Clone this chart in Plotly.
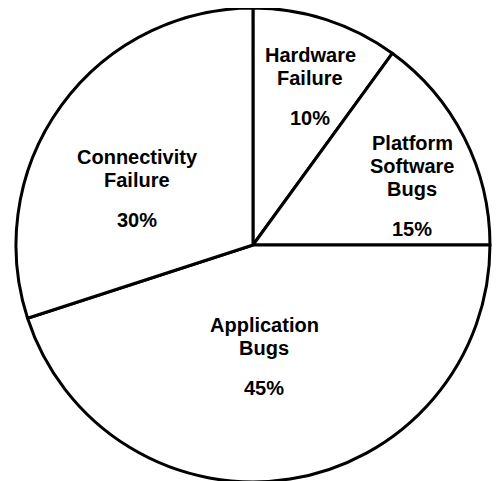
import plotly.graph_objects as go

# slices, clockwise from 12 o'clock
categories = ["Hardware Failure", "Platform Software Bugs", "Application Bugs", "Connectivity Failure"]
shares = [10, 15, 45, 30]
label_lines = [["Hardware", "Failure"], ["Platform", "Software", "Bugs"],
               ["Application", "Bugs"], ["Connectivity", "Failure"]]

W, H = 502, 481
MB = 7            # bottom margin -> plot area 474 px tall
PAGE_OFF = 8      # body margin of the html page

# where each label block sits (screen px: centre x, baseline of first line)
label_pos = [(310, 62), (412, 150), (264, 332), (137, 164)]
LINE = 23         # line step
GAP = 40          # step from last name line to the percentage
FONT = dict(family="Liberation Sans, Arial, sans-serif", size=20, color="#000000", weight="bold")

fig = go.Figure(go.Pie(
    labels=categories,
    values=shares,
    sort=False,
    direction="clockwise",
    rotation=0,
    marker=dict(colors=["#FFFFFF"] * len(shares), line=dict(color="#000000", width=3)),
    textinfo="none",
    hoverinfo="skip",
    domain=dict(x=[0.0, 0.976], y=[0, 1]),
))


def to_paper(xs, ys):
    # screen px -> paper coords of the plot area
    return (xs - PAGE_OFF) / W, 1 - (ys - PAGE_OFF) / (H - MB)


total = sum(shares)
for lines, v, (cx, base) in zip(label_lines, shares, label_pos):
    rows = lines + [f"{round(100 * v / total)}%"]
    y = base
    for i, txt in enumerate(rows):
        if i > 0:
            y += GAP if i == len(rows) - 1 else LINE
        px_, py_ = to_paper(cx, y - 7)
        fig.add_annotation(text=txt, x=px_, y=py_, xref="paper", yref="paper",
                           xanchor="center", yanchor="middle", showarrow=False,
                           font=FONT)

fig.update_layout(
    width=W, height=H,
    paper_bgcolor="#FFFFFF",
    showlegend=False,
    margin=dict(l=0, r=0, t=0, b=MB),
)

fig.write_html("out.html")
